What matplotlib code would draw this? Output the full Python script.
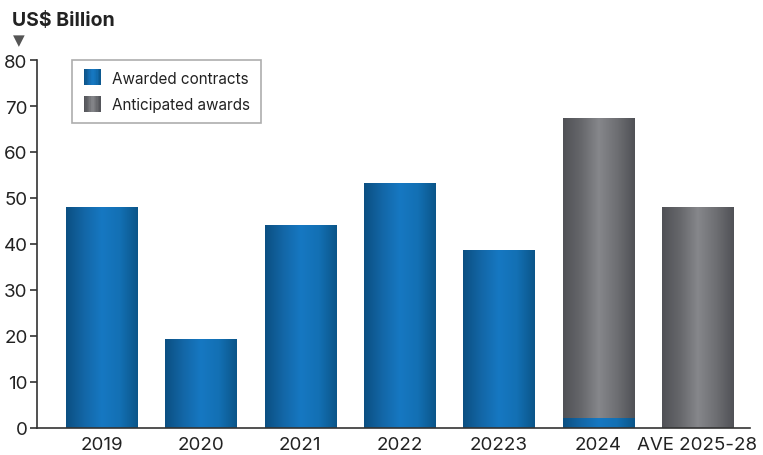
import numpy as np
import matplotlib
matplotlib.use("Agg")
import matplotlib.pyplot as plt
from matplotlib.colors import LinearSegmentedColormap
from matplotlib.legend_handler import HandlerBase
from matplotlib.patches import Rectangle

plt.rcParams['font.family'] = ['Inter', 'DejaVu Sans']

categories = ['2019', '2020', '2021', '2022', '20223', '2024', 'AVE 2025-28']
awarded = [48, 19.3, 44, 53.3, 38.7, 2, 0]
anticipated = [0, 0, 0, 0, 0, 65.4, 48]

blue_cmap = LinearSegmentedColormap.from_list(
    'blue_bar', ['#0b4f82', '#1366a6', '#1678c2', '#1370b4', '#0b5589'])
grey_cmap = LinearSegmentedColormap.from_list(
    'grey_bar', ['#505156', '#66676b', '#86878b', '#6e6f73', '#505156'])


def gradient_fill(ax, bars, cmap):
    ramp = np.linspace(0, 1, 256).reshape(1, -1)
    for b in bars:
        if b.get_height() <= 0:
            continue
        x0, y0 = b.get_x(), b.get_y()
        im = ax.imshow(ramp, cmap=cmap, aspect='auto', zorder=2,
                       extent=[x0, x0 + b.get_width(), y0, y0 + b.get_height()])
        im.set_clip_path(b)
        b.set_facecolor('none')


class GradientHandler(HandlerBase):
    def __init__(self, cmap):
        super().__init__()
        self.cmap = cmap

    def create_artists(self, legend, orig_handle, xdescent, ydescent,
                       width, height, fontsize, trans):
        size = height * 1.5
        x0 = -xdescent + (width - size) / 2
        y0 = -ydescent - (size - height) / 2
        n = 12
        strips = []
        for i in range(n):
            r = Rectangle((x0 + i * size / n, y0), size / n + 0.3, size,
                          facecolor=self.cmap((i + 0.5) / n), edgecolor='none',
                          transform=trans)
            strips.append(r)
        return strips


fig, ax = plt.subplots(figsize=(7.63, 4.56), dpi=100)
fig.subplots_adjust(left=0.049, right=0.983, top=0.866, bottom=0.06)

x = np.arange(len(categories))
width = 0.715
blue_bars = ax.bar(x, awarded, width, color='#1370b4', zorder=2)
grey_bars = ax.bar(x, anticipated, width, bottom=awarded, color='#6e6f73', zorder=2)
gradient_fill(ax, blue_bars, blue_cmap)
gradient_fill(ax, grey_bars, grey_cmap)

ax.set_xlim(-0.645, 6.53)
ax.set_ylim(0, 80)
ax.set_yticks(range(0, 81, 10))
ax.set_xticks(x)
ax.set_xticklabels(categories)

for side in ('top', 'right'):
    ax.spines[side].set_visible(False)
for side in ('left', 'bottom'):
    ax.spines[side].set_color('#333333')
    ax.spines[side].set_linewidth(1.2)
ax.tick_params(axis='y', length=5, width=1.2, color='#333333',
               labelsize=13.5, labelcolor='#222222', pad=2)
ax.tick_params(axis='x', length=0, labelsize=13.5, labelcolor='#222222', pad=6)

fig.text(0.016, 0.955, 'US$ Billion', fontsize=14, fontweight='bold',
         color='#222222', va='center', ha='left')
fig.text(0.025, 0.91, '\u25BC', fontsize=11, color='#555555',
         va='center', ha='center', family=['DejaVu Sans'])

h1 = Rectangle((0, 0), 1, 1)
h2 = Rectangle((0, 0), 1, 1)
leg = ax.legend([h1, h2], ['Awarded contracts', 'Anticipated awards'],
                handler_map={h1: GradientHandler(blue_cmap),
                             h2: GradientHandler(grey_cmap)},
                loc='upper left', bbox_to_anchor=(0.049, 1.0), borderaxespad=0,
                fontsize=11, frameon=True, fancybox=False,
                edgecolor='#999999', handlelength=1.2, handletextpad=0.7,
                borderpad=0.7, labelspacing=0.75)
leg.get_frame().set_linewidth(1.2)
for t in leg.get_texts():
    t.set_color('#222222')

fig.savefig('out.png', dpi=100)
